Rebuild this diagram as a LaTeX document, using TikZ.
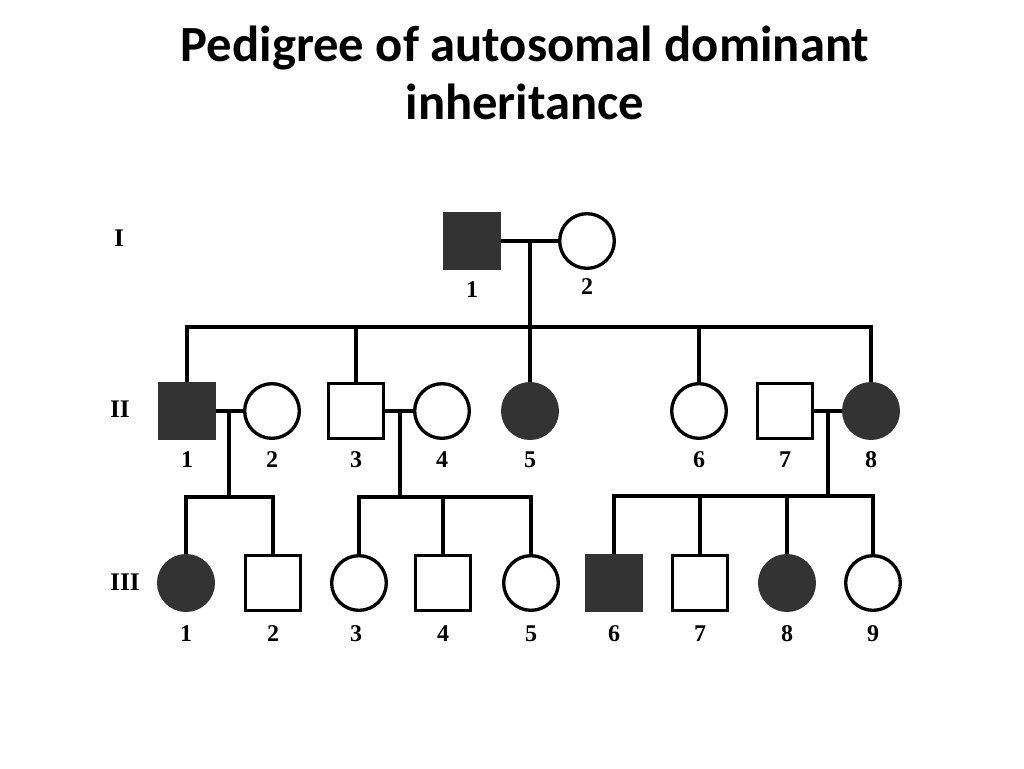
\documentclass[tikz,border=0pt]{standalone}
\usepackage{fontspec}
\setmainfont{Liberation Serif}
\newfontfamily\titlefont{Carlito}
\begin{document}
\begin{tikzpicture}[x=0.75pt,y=-0.75pt,
  line/.style={line width=2.5pt},
  sym/.style={line width=2.5pt, draw=black, inner sep=0pt, minimum size=41pt},
  male/.style={sym, rectangle, fill=white},
  female/.style={sym, circle, fill=white},
  aff/.style={fill=black!80, draw=black!80},
  num/.style={font=\bfseries\fontsize{18}{20}\selectfont, inner sep=0pt, text height=12pt, text depth=0pt},
  gen/.style={font=\bfseries\fontsize{19}{21}\selectfont, inner sep=0pt, text height=12.5pt, text depth=0pt},
  ttl/.style={font=\titlefont\bfseries\fontsize{38}{44}\selectfont, align=center, inner sep=0pt}]
\useasboundingbox (0,0) rectangle (1024,768);
% title
\node[ttl] (title) at (525,73) {Pedigree of autosomal dominant\\inheritance};
% generation labels
\node[gen] (gI) at (119,238) {I};
\node[gen] (gII) at (120,409) {II};
\node[gen] (gIII) at (125,582) {III};
% generation I
\node[male,aff] (I1) at (472,241) {};
\node[female] (I2) at (587,241) {};
\node[num] (nI1) at (472,289) {1};
\node[num] (nI2) at (587,286) {2};
% generation II
\node[male,aff] (II1) at (187,411) {};
\node[female] (II2) at (272,411) {};
\node[male] (II3) at (356,411) {};
\node[female] (II4) at (442,411) {};
\node[female,aff] (II5) at (530,411) {};
\node[female] (II6) at (699,411) {};
\node[male] (II7) at (785,411) {};
\node[female,aff] (II8) at (871,411) {};
\foreach \n/\x in {1/187,2/272,3/356,4/442,5/530,6/699,7/785,8/871}
  \node[num] (nII\n) at (\x,459) {\n};
% generation III
\node[female,aff] (III1) at (186,583) {};
\node[male] (III2) at (273,583) {};
\node[female] (III3) at (359,583) {};
\node[male] (III4) at (443,583) {};
\node[female] (III5) at (531,583) {};
\node[male,aff] (III6) at (614,583) {};
\node[male] (III7) at (700,583) {};
\node[female,aff] (III8) at (787,583) {};
\node[female] (III9) at (873,583) {};
\foreach \n/\x in {1/186,2/273,3/356,4/443,5/531,6/614,7/700,8/787,9/873}
  \node[num] (nIII\n) at (\x,633) {\n};
% connectors generation I -> II
\coordinate (m1) at (530,240);
\coordinate (s1) at (530,327);
\draw[line] (I1.east) -- (I2.west);
\draw[line] (m1) -- (s1);
\draw[line] (II1.north) -- (II1.north |- s1) -- (II8.north |- s1) -- (II8.north);
\draw[line] (II3.north) -- (II3.north |- s1);
\draw[line] (II5.north) -- (s1);
\draw[line] (II6.north) -- (II6.north |- s1);
% II1 x II2
\coordinate (m2) at (229,409);
\coordinate (s2) at (229,497);
\draw[line] (II1.east) -- (II2.west);
\draw[line] (m2) -- (s2);
\draw[line] (III1.north) -- (III1.north |- s2) -- (III2.north |- s2) -- (III2.north);
% II3 x II4
\coordinate (m3) at (400,409);
\coordinate (s3) at (400,497);
\draw[line] (II3.east) -- (II4.west);
\draw[line] (m3) -- (s3);
\draw[line] (III3.north) -- (III3.north |- s3) -- (III5.north |- s3) -- (III5.north);
\draw[line] (III4.north) -- (III4.north |- s3);
% II7 x II8
\coordinate (m4) at (828,409);
\coordinate (s4) at (828,496);
\draw[line] (II7.east) -- (II8.west);
\draw[line] (m4) -- (s4);
\draw[line] (III6.north) -- (III6.north |- s4) -- (III9.north |- s4) -- (III9.north);
\draw[line] (III7.north) -- (III7.north |- s4);
\draw[line] (III8.north) -- (III8.north |- s4);
\end{tikzpicture}
\end{document}
